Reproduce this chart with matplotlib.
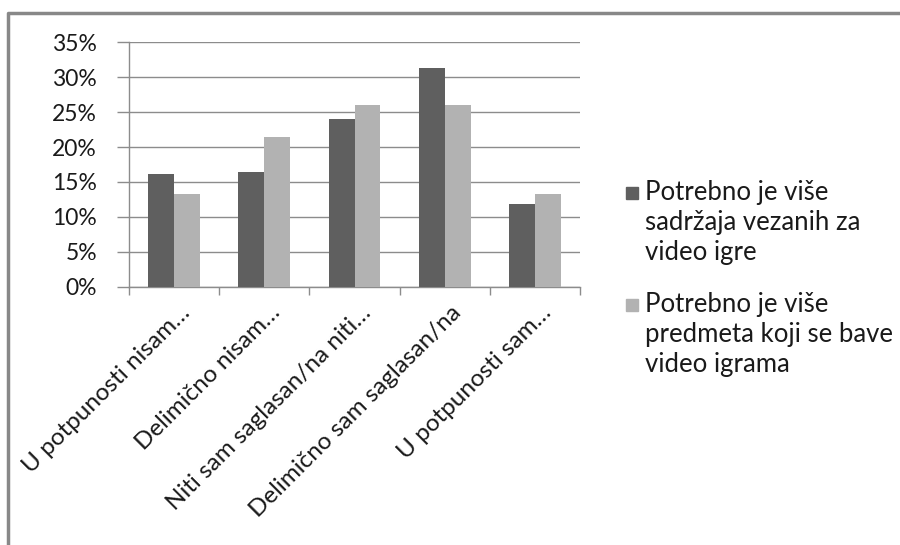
import numpy as np
import matplotlib
matplotlib.use("Agg")
import matplotlib.pyplot as plt
from matplotlib.patches import Rectangle
from matplotlib.lines import Line2D
from matplotlib.ticker import PercentFormatter

categories = ["U potpunosti nisam…", "Delimično nisam…", "Niti sam saglasan/na niti…",
              "Delimično sam saglasan/na", "U potpunosti sam…"]
more_content = [16.2, 16.4, 24.0, 31.3, 11.8]
more_subjects = [13.3, 21.5, 26.0, 26.0, 13.3]
series_labels = ["Potrebno je više\nsadržaja vezanih za\nvideo igre",
                 "Potrebno je više\npredmeta koji se bave\nvideo igrama"]
colors = ["#5f5f5f", "#b2b2b2"]
y_ticks = [0, 5, 10, 15, 20, 25, 30, 35]

plt.rcParams["font.family"] = ["Lato", "DejaVu Sans"]
grid_color = "#8c8c8c"
text_color = "#1a1a1a"

fig = plt.figure(figsize=(9, 5.45), dpi=100)
ax = fig.add_axes([129 / 900, 1 - 286.7 / 545, 451 / 900, (286.7 - 42.3) / 545])

x = np.arange(len(categories))
w = 0.288
ax.bar(x - w / 2, more_content, w, color=colors[0], zorder=3)
ax.bar(x + w / 2, more_subjects, w, color=colors[1], zorder=3)

ax.set_xlim(-0.5, len(categories) - 0.5)
ax.set_ylim(0, 35)
ax.set_yticks(y_ticks)
ax.yaxis.set_major_formatter(PercentFormatter(decimals=0))
ax.grid(axis="y", color=grid_color, linewidth=1, zorder=0)

ax.set_xticks(x + 0.06)
ax.set_xticklabels(categories, rotation=45, ha="right", va="top", rotation_mode="anchor")
ax.set_xticks(np.arange(-0.5, len(categories)), minor=True)
ax.tick_params(axis="x", which="major", length=0, pad=11, labelsize=17.5, colors=text_color)
ax.tick_params(axis="x", which="minor", length=6, color=grid_color, width=1)
ax.tick_params(axis="y", length=9, color=grid_color, width=1, pad=14, labelsize=16.5, labelcolor=text_color)

for side in ["top", "right"]:
    ax.spines[side].set_visible(False)
for side in ["left", "bottom"]:
    ax.spines[side].set_color(grid_color)
    ax.spines[side].set_linewidth(1)

# legend, drawn by hand so the marker sits on the first line
leg_top = [180, 292]
for label, color, top in zip(series_labels, colors, leg_top):
    fig.add_artist(Rectangle((626 / 900, 1 - (top + 19) / 545), 12 / 900, 12 / 545,
                             transform=fig.transFigure, color=color))
    fig.text(645 / 900, 1 - top / 545, label, fontsize=18.5, color=text_color,
             va="top", ha="left", linespacing=1.25)

# chart area border
fig.add_artist(Line2D([7.5 / 900, 7.5 / 900, 1], [0, 1 - 12.5 / 545, 1 - 12.5 / 545],
                      transform=fig.transFigure, color="#888888", linewidth=2.5))

fig.savefig("out.png", dpi=100)
